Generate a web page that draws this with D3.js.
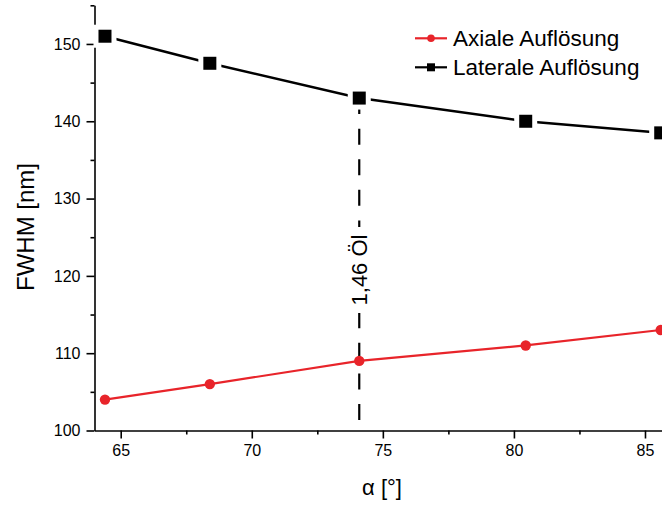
<!DOCTYPE html>
<html>
<head>
<meta charset="utf-8">
<script src="https://cdn.jsdelivr.net/npm/d3@7"></script>
<style>
  body { margin: 0; background: #fff; }
  svg { display: block; font-family: "Liberation Sans", Arial, sans-serif; }
</style>
</head>
<body>
<div class="chart"></div>
<script>
// data
var alpha = [64.4, 68.4, 74.1, 80.45, 85.6];
var axial = [104, 106, 109, 111, 113];
var lateral = [151, 147.5, 143, 140, 138.5];
var seriesNames = ["Axiale Auflösung", "Laterale Auflösung"];
var xTicks = [65, 70, 75, 80, 85];
var xMinor = [67.5, 72.5, 77.5, 82.5];
var yTicks = [100, 110, 120, 130, 140, 150];
var yMinor = [105, 115, 125, 135, 145, 155];
var markerAlpha = 74.1;
var markerLabel = "1,46 Öl";

var svgWidth = 662;
var svgHeight = 505;

var svg = d3.select(".chart")
    .append("svg")
    .attr("width", svgWidth)
    .attr("height", svgHeight);

// scales
var xScale = d3.scaleLinear().domain([64, 86]).range([94.5, 671.2]);
var yScale = d3.scaleLinear().domain([100, 155]).range([430.5, 5.3]);

// x axis, major + minor ticks
svg.append("g")
    .attr("transform", "translate(0,430.5)")
    .call(d3.axisBottom(xScale).tickValues(xMinor).tickSize(4).tickFormat(""))
    .call(g => g.select(".domain").remove());
var xAxis = svg.append("g")
    .attr("transform", "translate(0,430.5)")
    .call(d3.axisBottom(xScale).tickValues(xTicks).tickSize(8).tickPadding(6).tickSizeOuter(0));
xAxis.selectAll("text").attr("font-size", "16px").attr("fill", "#000").attr("font-family", "Liberation Sans, Arial, sans-serif");

// y axis
svg.append("g")
    .attr("transform", "translate(94.5,0)")
    .call(d3.axisLeft(yScale).tickValues(yMinor).tickSize(4).tickFormat(""))
    .call(g => g.select(".domain").remove());
var yAxis = svg.append("g")
    .attr("transform", "translate(94.5,0)")
    .call(d3.axisLeft(yScale).tickValues(yTicks).tickSize(8).tickPadding(6).tickSizeOuter(0));
yAxis.selectAll("text").attr("font-size", "16px").attr("fill", "#000").attr("font-family", "Liberation Sans, Arial, sans-serif");

svg.selectAll(".domain, .tick line").attr("stroke", "#000").attr("stroke-width", 1.6);

// axis titles
svg.append("text")
    .attr("x", 382)
    .attr("y", 495)
    .attr("text-anchor", "middle")
    .attr("font-size", "22px")
    .text("α [°]");

svg.append("text")
    .attr("transform", "translate(34,227) rotate(-90)")
    .attr("text-anchor", "middle")
    .attr("font-size", "24px")
    .text("FWHM [nm]");

// dashed marker line at 1,46 oil
var latAtMarker = lateral[alpha.indexOf(markerAlpha)];
svg.append("line")
    .attr("x1", xScale(markerAlpha))
    .attr("x2", xScale(markerAlpha))
    .attr("y1", yScale(latAtMarker))
    .attr("y2", yScale(100))
    .attr("stroke", "#000")
    .attr("stroke-width", 2.2)
    .attr("stroke-dasharray", "16,14.6");

svg.append("rect")
    .attr("x", xScale(markerAlpha) - 6)
    .attr("y", 227)
    .attr("width", 12)
    .attr("height", 86)
    .attr("fill", "#fff");

svg.append("text")
    .attr("transform", `translate(${xScale(markerAlpha) + 8},270) rotate(-90)`)
    .attr("text-anchor", "middle")
    .attr("font-size", "22px")
    .text(markerLabel);

// lines
var line = d3.line()
    .x((d, i) => xScale(alpha[i]))
    .y(d => yScale(d));

svg.append("path")
    .datum(axial)
    .attr("d", line)
    .attr("fill", "none")
    .attr("stroke", "#e8242a")
    .attr("stroke-width", 2.2);

svg.append("path")
    .datum(lateral)
    .attr("d", line)
    .attr("fill", "none")
    .attr("stroke", "#000")
    .attr("stroke-width", 2.5);

// markers
svg.selectAll(".axialPt")
    .data(axial)
    .enter()
    .append("circle")
    .attr("cx", (d, i) => xScale(alpha[i]))
    .attr("cy", d => yScale(d))
    .attr("r", 5.2)
    .attr("fill", "#e8242a");

svg.selectAll(".latPt")
    .data(lateral)
    .enter()
    .append("rect")
    .attr("x", (d, i) => xScale(alpha[i]) - 6.5)
    .attr("y", d => yScale(d) - 6.5)
    .attr("width", 13)
    .attr("height", 13)
    .attr("fill", "#000")
    .attr("stroke", "#fff")
    .attr("stroke-width", 10)
    .attr("paint-order", "stroke");

// legend
var legendColors = ["#e8242a", "#000"];
var legend = svg.selectAll(".legendItem")
    .data(seriesNames)
    .enter()
    .append("g")
    .attr("transform", (d, i) => `translate(415,${38.3 + i * 29})`);

legend.append("line")
    .attr("x1", 0).attr("x2", 32)
    .attr("stroke", (d, i) => legendColors[i])
    .attr("stroke-width", 2.2);

legend.each(function(d, i) {
    var g = d3.select(this);
    if (i === 0) {
        g.append("circle").attr("cx", 16).attr("r", 3.8).attr("fill", legendColors[i]);
    } else {
        g.append("rect").attr("x", 12).attr("y", -4).attr("width", 8).attr("height", 8).attr("fill", legendColors[i]);
    }
});

legend.append("text")
    .attr("x", 38)
    .attr("y", 8)
    .attr("font-size", "22.5px")
    .text(d => d);
</script>
</body>
</html>
